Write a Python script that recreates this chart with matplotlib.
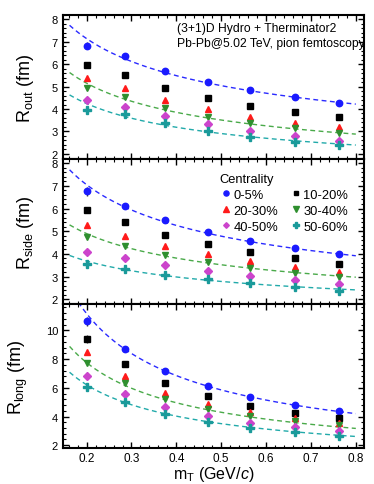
import matplotlib
matplotlib.use("Agg")
import matplotlib.pyplot as plt
import numpy as np
from matplotlib.ticker import MultipleLocator
from matplotlib.lines import Line2D

plt.rcParams['font.family'] = ['Liberation Sans', 'DejaVu Sans']
plt.rcParams['mathtext.fontset'] = 'custom'
plt.rcParams['mathtext.rm'] = 'Liberation Sans'
plt.rcParams['mathtext.it'] = 'Liberation Sans:italic'

mT = [0.200, 0.285, 0.375, 0.470, 0.565, 0.665, 0.762]
centralities = ['0-5%', '10-20%', '20-30%', '30-40%', '40-50%', '50-60%']

R_out = {
    '0-5%':   [6.83, 6.36, 5.69, 5.19, 4.84, 4.52, 4.28],
    '10-20%': [5.95, 5.51, 4.93, 4.49, 4.12, 3.86, 3.64],
    '20-30%': [5.37, 4.96, 4.41, 4.00, 3.65, 3.39, 3.20],
    '30-40%': [4.93, 4.55, 4.05, 3.65, 3.36, 3.13, 2.94],
    '40-50%': [4.41, 4.10, 3.68, 3.32, 3.02, 2.79, 2.58],
    '50-60%': [3.96, 3.76, 3.36, 3.02, 2.76, 2.51, 2.37],
}
R_side = {
    '0-5%':   [6.77, 6.13, 5.48, 4.97, 4.59, 4.27, 3.99],
    '10-20%': [5.92, 5.39, 4.84, 4.43, 4.08, 3.81, 3.57],
    '20-30%': [5.26, 4.81, 4.36, 3.99, 3.68, 3.42, 3.21],
    '30-40%': [4.75, 4.36, 3.96, 3.65, 3.39, 3.16, 3.00],
    '40-50%': [4.09, 3.84, 3.52, 3.26, 3.04, 2.85, 2.69],
    '50-60%': [3.54, 3.32, 3.08, 2.89, 2.70, 2.56, 2.38],
}
R_long = {
    '0-5%':   [10.63, 8.69, 7.19, 6.12, 5.37, 4.81, 4.36],
    '10-20%': [9.39, 7.66, 6.30, 5.42, 4.76, 4.27, 3.89],
    '20-30%': [8.48, 6.84, 5.67, 4.88, 4.29, 3.87, 3.57],
    '30-40%': [7.71, 6.30, 5.25, 4.55, 4.04, 3.68, 3.38],
    '40-50%': [6.80, 5.60, 4.69, 4.06, 3.57, 3.24, 2.98],
    '50-60%': [6.02, 4.99, 4.18, 3.61, 3.19, 2.89, 2.63],
}
# small statistical errors (mostly visible only at the lowest mT)
err_out = {'0-5%': [0.15, 0.1, 0.05, 0.04, 0.04, 0.04, 0.04],
           '10-20%': [0.12, 0.06, 0.04, 0.03, 0.03, 0.03, 0.03]}
err_side = {'0-5%': [0.2, 0.12, 0.05, 0.04, 0.04, 0.04, 0.04],
            '10-20%': [0.12, 0.06, 0.04, 0.03, 0.03, 0.03, 0.03]}
err_long = {'0-5%': [0.3, 0.2, 0.08, 0.06, 0.05, 0.05, 0.05],
            '10-20%': [0.25, 0.12, 0.06, 0.05, 0.04, 0.04, 0.04]}

# power-law fits R = A * mT^(-b)
fit_cents = ['0-5%', '30-40%', '50-60%']
fit_out_A = [7.74 * 0.162**0.38, 5.63 * 0.162**0.42, 4.63 * 0.162**0.414]
fit_out_b = [0.38, 0.42, 0.414]
fit_side_A = [7.71 * 0.162**0.424, 5.28 * 0.162**0.36, 3.93 * 0.162**0.306]
fit_side_b = [0.424, 0.36, 0.306]
fit_long_A = [4.2 * 0.8**0.705, 3.17 * 0.8**0.645, 2.61 * 0.8**0.625]
fit_long_b = [0.705, 0.645, 0.625]

colors = {'0-5%': '#1a1aff', '10-20%': '#000000', '20-30%': '#ff1a1a',
          '30-40%': '#2f8f2f', '40-50%': '#cc44cc', '50-60%': '#1a9a9a'}
markers = {'0-5%': 'o', '10-20%': 's', '20-30%': '^', '30-40%': 'v',
           '40-50%': 'D', '50-60%': 'P'}
msizes = {'0-5%': 4.6, '10-20%': 3.9, '20-30%': 4.8, '30-40%': 4.8,
          '40-50%': 3.6, '50-60%': 5.2}
fit_colors = {'0-5%': '#2a2aff', '30-40%': '#4aaa4a', '50-60%': '#22aaaa'}

fig = plt.figure(figsize=(3.74, 4.85), dpi=100)
gs = fig.add_gridspec(3, 1, left=0.168, right=0.973, bottom=0.074, top=0.967, hspace=0)
axes = [fig.add_subplot(gs[i]) for i in range(3)]

panels = [
    (R_out, err_out, fit_out_A, fit_out_b, r'R$_{\rm out}$ (fm)', (1.75, 8.2), 1, 0.2),
    (R_side, err_side, fit_side_A, fit_side_b, r'R$_{\rm side}$ (fm)', (1.8, 8.17), 1, 0.2),
    (R_long, err_long, fit_long_A, fit_long_b, r'R$_{\rm long}$ (fm)', (1.8, 11.85), 2, 0.4),
]

xf = np.linspace(0.162, 0.8, 200)
for ax, (R, E, A, B, ylab, ylim, maj, mnr) in zip(axes, panels):
    for c, a, b in zip(fit_cents, A, B):
        ax.plot(xf, a * xf**(-b), ls=(0, (3.5, 2.5)), lw=1.0, color=fit_colors[c], zorder=1)
    for c in centralities:
        yerr = E.get(c)
        ax.errorbar(mT, R[c], yerr=yerr, fmt=markers[c], color=colors[c],
                    ms=msizes[c], ecolor='#333333', elinewidth=1, capsize=0,
                    mec=colors[c], zorder=3)
    ax.set_xlim(0.147, 0.818)
    ax.set_ylim(*ylim)
    ax.set_ylabel(ylab, fontsize=13, labelpad=11)
    ax.xaxis.set_major_locator(MultipleLocator(0.1))
    ax.xaxis.set_minor_locator(MultipleLocator(0.02))
    ax.yaxis.set_major_locator(MultipleLocator(maj))
    ax.yaxis.set_minor_locator(MultipleLocator(mnr))
    ax.tick_params(which='both', direction='in', top=True, right=True, labelsize=8)
    ax.tick_params(which='major', length=4, width=1)
    ax.tick_params(which='minor', length=2, width=0.8)
    ax.tick_params(axis='x', pad=2.5, labelsize=8.5)
    for s in ax.spines.values():
        s.set_linewidth(1.5)
    if ax is not axes[-1]:
        ax.tick_params(labelbottom=False)

axes[0].text(0.379, 0.955, '(3+1)D Hydro + Therminator2\nPb-Pb@5.02 TeV, pion femtoscopy',
             transform=axes[0].transAxes, ha='left', va='top', fontsize=8.7, linespacing=1.35)

# legend rows: 0-5%, 10-20% / 20-30%, 30-40% / 40-50%, 50-60% (matplotlib fills by column)
leg_order = ['0-5%', '20-30%', '40-50%', '10-20%', '30-40%', '50-60%']
leg_handles = [Line2D([], [], ls='none', marker=markers[c], color=colors[c],
                      ms=msizes[c] * 0.8) for c in leg_order]
leg = axes[1].legend(leg_handles, leg_order, ncol=2,
                     loc='upper left', bbox_to_anchor=(0.5, 0.95), frameon=False,
                     title='Centrality', fontsize=9.3, title_fontsize=9.3,
                     handletextpad=0.15, columnspacing=0.9, labelspacing=0.3,
                     handlelength=0.9, borderaxespad=0.1)
leg._legend_box.align = 'left'

axes[2].set_xlabel(r'm$_{\rm T}$ (GeV/$c$)', fontsize=11.5, labelpad=0)

fig.savefig('out.png', dpi=100)
